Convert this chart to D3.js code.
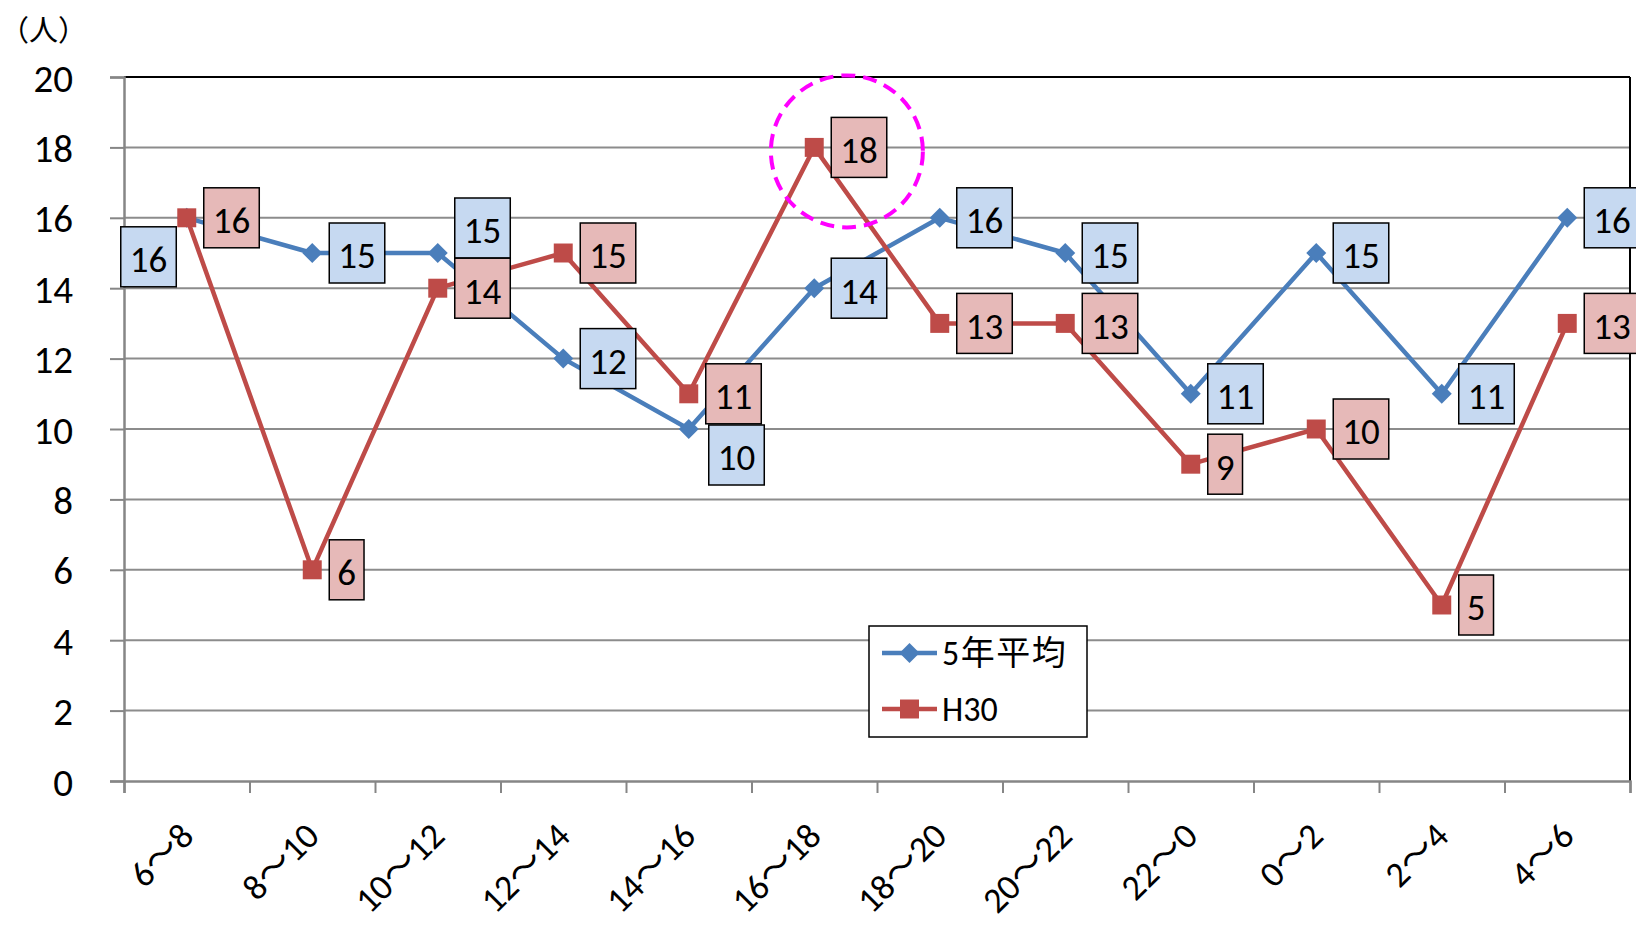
<!DOCTYPE html>
<html><head><meta charset="utf-8">
<script src="https://cdn.jsdelivr.net/npm/d3@7"></script>
<style>
html,body{margin:0;padding:0;background:#fff;overflow:hidden}
svg{display:block}
text{font-family:Carlito,Lato,"Noto Sans CJK JP",sans-serif}
</style></head>
<body>
<svg id="c" width="1636" height="929"></svg>
<script>
// ---- data ----
const categories = ["6～8","8～10","10～12","12～14","14～16","16～18","18～20","20～22","22～0","0～2","2～4","4～6"];
const seriesNames = ["5年平均","H30"];
const avg5 = [16,15,15,12,10,14,16,15,11,15,11,16];
const h30  = [16,6,14,15,11,18,13,13,9,10,5,13];
const yTicks = [0,2,4,6,8,10,12,14,16,18,20];
const yUnit = "（人）";
const highlightIndex = 5;   // H30 peak circled

// ---- style / layout ----
const W = 1636, H = 929;
const L = 124, R = 1630, T = 77, B = 781;
const blue = "#4A7EBB", red = "#BE4B48";
const blueFill = "#C6D9F1", redFill = "#E6B9B8";
// label placement exceptions (pixel offsets from default "right" placement)
const blueLabelAdj = {0:{dx:-83,dy:39}, 2:{dx:0,dy:-25}, 4:{dx:3,dy:26}};
const redLabelAdj = {};

const svg = d3.select("#c");
const x = d3.scaleBand().domain(categories).range([L, R]).padding(0);
const xEdge = d3.scaleLinear().domain([0, categories.length]).range([L, R]);
const y = d3.scaleLinear().domain([0, 20]).range([B, T]);

// gridlines
svg.append("g").selectAll("line").data(yTicks.filter(v=>v>0)).join("line")
  .attr("x1", L).attr("x2", R).attr("y1", d=>y(d)).attr("y2", d=>y(d))
  .attr("stroke", "#8C8C8C").attr("stroke-width", 2);
// top & right border
svg.append("line").attr("x1", L).attr("x2", R).attr("y1", T).attr("y2", T).attr("stroke","#000").attr("stroke-width",2);
svg.append("line").attr("x1", R).attr("x2", R).attr("y1", T).attr("y2", B).attr("stroke","#000").attr("stroke-width",2);

// y axis
const yAxis = svg.append("g").attr("transform", `translate(${L},0)`)
  .call(d3.axisLeft(y).tickValues(yTicks).tickSize(14).tickPadding(37).tickFormat(d3.format("d")));
yAxis.select(".domain").attr("stroke", "#868686").attr("stroke-width", 2.5);
yAxis.selectAll(".tick line").attr("stroke", "#868686").attr("stroke-width", 2);
yAxis.selectAll(".tick text").attr("font-size", 39).attr("fill","#000").attr("dy","0.36em")
  .attr("font-family","Carlito,Lato,sans-serif");

// x axis (ticks on category boundaries)
const xAxis = svg.append("g").attr("transform", `translate(0,${B})`)
  .call(d3.axisBottom(xEdge).tickValues(d3.range(categories.length+1)).tickSize(12).tickFormat(""));
xAxis.select(".domain").attr("stroke", "#868686").attr("stroke-width", 2.5);
xAxis.selectAll(".tick line").attr("stroke", "#868686").attr("stroke-width", 2);

// x labels
svg.append("g").selectAll("text").data(categories).join("text")
  .attr("transform", d => `translate(${x(d)+x.bandwidth()/2+9},${B+57}) rotate(-45)`)
  .attr("text-anchor", "end").attr("font-size", 36).attr("fill","#000")
  .text(d=>d);

// unit label
svg.append("text").attr("x", 0).attr("y", 41).attr("font-size", 29)
  .attr("font-family",'"Noto Sans CJK JP",sans-serif').text(yUnit);

const cx = i => x(categories[i]) + x.bandwidth()/2;
const line = d3.line().x((d,i)=>cx(i)).y(d=>y(d));

// series
const series = [
  {name: seriesNames[0], values: avg5, color: blue, fill: blueFill, diamond: true, adj: blueLabelAdj},
  {name: seriesNames[1], values: h30, color: red, fill: redFill, diamond: false, adj: redLabelAdj}
];
series.forEach(s => {
  svg.append("path").datum(s.values).attr("d", line).attr("fill","none")
    .attr("stroke", s.color).attr("stroke-width", 4.5).attr("stroke-linejoin","round");
  const sym = d3.symbol().type(d3.symbolSquare).size(s.diamond ? 200 : 360);
  svg.append("g").selectAll("path").data(s.values).join("path")
    .attr("d", sym)
    .attr("transform", (d,i)=>`translate(${cx(i)},${y(d)})` + (s.diamond ? " rotate(45)" : ""))
    .attr("fill", s.color);
});

// highlight circle
svg.append("circle")
  .attr("cx", cx(highlightIndex) + x.bandwidth()*0.26)
  .attr("cy", y(h30[highlightIndex]) + 4)
  .attr("r", 76).attr("fill","none").attr("stroke","#FF00FF")
  .attr("stroke-width", 4).attr("stroke-dasharray","14 8");

// data labels
series.forEach(s => {
  const g = svg.append("g");
  s.values.forEach((v,i) => {
    const a = s.adj[i] || {dx:0,dy:0};
    const lg = g.append("g");
    const t = lg.append("text").attr("font-size", 37).attr("fill","#000")
      .attr("text-anchor","middle").attr("dy","0.36em").text(v);
    const tw = t.node().getComputedTextLength();
    const bw = String(v).length > 1 ? tw + 18 : tw + 16;
    const bh = 60;
    const left = cx(i) + 17 + a.dx;
    const cy = y(v) + a.dy;
    lg.insert("rect","text").attr("x", left).attr("y", cy - bh/2).attr("width", bw).attr("height", bh)
      .attr("fill", s.fill).attr("stroke","#000").attr("stroke-width",1.5);
    t.attr("x", left + bw/2).attr("y", cy + 2);
  });
});

// legend
const lg = svg.append("g");
lg.append("rect").attr("x", 869).attr("y", 626).attr("width", 218).attr("height", 111)
  .attr("fill","#fff").attr("stroke","#000").attr("stroke-width",1.5);
series.forEach((s,k) => {
  const yy = 653 + k*56;
  lg.append("line").attr("x1",882).attr("x2",937).attr("y1",yy).attr("y2",yy)
    .attr("stroke", s.color).attr("stroke-width",4.5);
  lg.append("path").attr("d", d3.symbol().type(d3.symbolSquare).size(k===0?200:360))
    .attr("transform", `translate(909.5,${yy})` + (k===0?" rotate(45)":"")).attr("fill", s.color);
  lg.append("text").attr("x", 942).attr("y", yy).attr("dy","0.36em").attr("font-size", 34)
    .attr("letter-spacing", k===0 ? 1.5 : 0)
    .attr("font-family",'Carlito,Lato,"Noto Sans CJK JP",sans-serif').text(s.name);
});
</script>
</body></html>
